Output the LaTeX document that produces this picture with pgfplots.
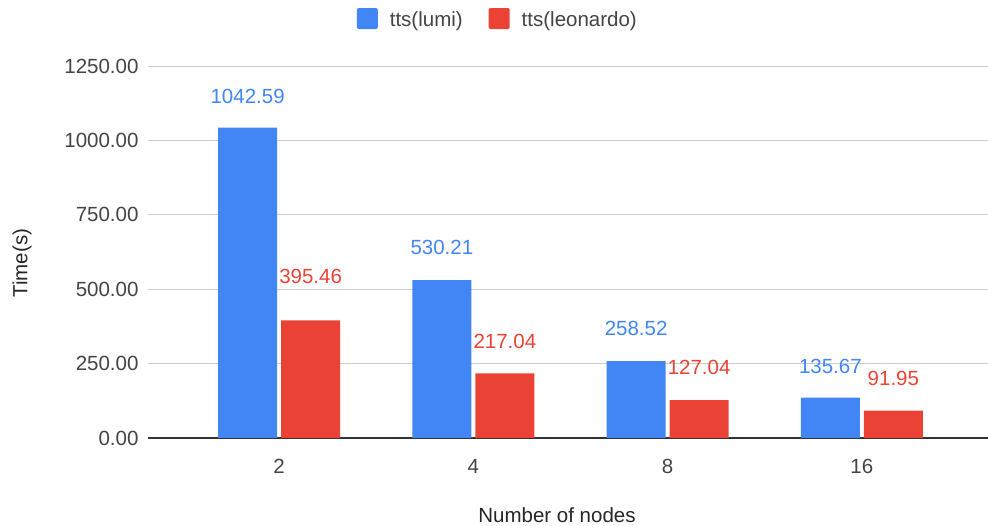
\documentclass[border=0pt]{standalone}
\usepackage{pgfplots}
\usepackage{pgfplotstable}
\pgfplotsset{compat=1.18}
\usepackage{fontspec}
\setmainfont{Liberation Sans}
\definecolor{gblue}{HTML}{4285F4}
\definecolor{gred}{HTML}{EA4335}
\definecolor{ggrid}{HTML}{CCCCCC}
\definecolor{gtext}{HTML}{444444}
\definecolor{gaxis}{HTML}{333333}
\pgfplotstableread{
x y off
0 1042.59 24
1 530.21 25
2 258.52 25
3 135.67 24
}\lumi
\pgfplotstableread{
x y off
0 395.46 36
1 217.04 25
2 127.04 25
3 91.95 25
}\leonardo
\begin{document}
\begin{tikzpicture}
\useasboundingbox (-148pt,-88pt) rectangle (840pt,438pt);
\begin{axis}[
  at={(0,0)}, anchor=south west,
  scale only axis, width=845pt, height=372pt,
  xmin=-0.675, xmax=3.675, ymin=0, ymax=1250,
  ybar, bar width=59pt,
  xtick={0,1,2,3}, xticklabels={2,4,8,16},
  ytick={0,250,500,750,1000,1250},
  yticklabel style={/pgf/number format/fixed, /pgf/number format/fixed zerofill, /pgf/number format/precision=2, /pgf/number format/1000 sep={}, /pgf/number format/assume math mode=true},
  ymajorgrids, grid style={ggrid, line width=0.9pt},
  axis x line*=bottom, axis y line*=left,
  y axis line style={draw=none},
  x axis line style={draw=gaxis, line width=1.2pt, -},
  major tick length=0pt,
  tick label style={font=\fontsize{20.5}{24}\selectfont, text=gtext},
  yticklabel style={xshift=-6pt},
  xticklabel style={yshift=-18pt},
  label style={font=\fontsize{20.5}{24}\selectfont, text=black!85},
  xlabel={Number of nodes},
  xlabel style={at={(axis description cs:0.484,-0.207)}, anchor=center},
  ylabel={Time(s)},
  ylabel style={at={(axis description cs:-0.149,0.47)}, anchor=center},
  legend style={at={(axis description cs:0.414,1.126)}, anchor=center, draw=none,
    font=\fontsize{20.5}{24}\selectfont, text=gtext,
    /tikz/every odd column/.append style={column sep=10pt},
    /tikz/every even column/.append style={column sep=24pt}},
  legend columns=2,
  legend image code/.code={\fill[#1, rounded corners=2pt] (0pt,-9pt) rectangle (21pt,12pt);},
  visualization depends on={\thisrow{off} \as \lbloff},
  nodes near coords={\pgfmathprintnumber[fixed,fixed zerofill,precision=2,1000 sep={},assume math mode=true]{\pgfplotspointmeta}},
  nodes near coords style={font=\fontsize{20.5}{24}\selectfont, anchor=south, inner sep=0pt, yshift=\lbloff pt},
]
\addplot[fill=gblue, draw=none, bar shift=-31.5pt, every node near coord/.append style={text=gblue}]
  table[x=x, y=y] {\lumi};
\addlegendentry{tts(lumi)}
\addplot[fill=gred, draw=none, bar shift=31.5pt, every node near coord/.append style={text=gred}]
  table[x=x, y=y] {\leonardo};
\addlegendentry{tts(leonardo)}
\end{axis}
\end{tikzpicture}
\end{document}
